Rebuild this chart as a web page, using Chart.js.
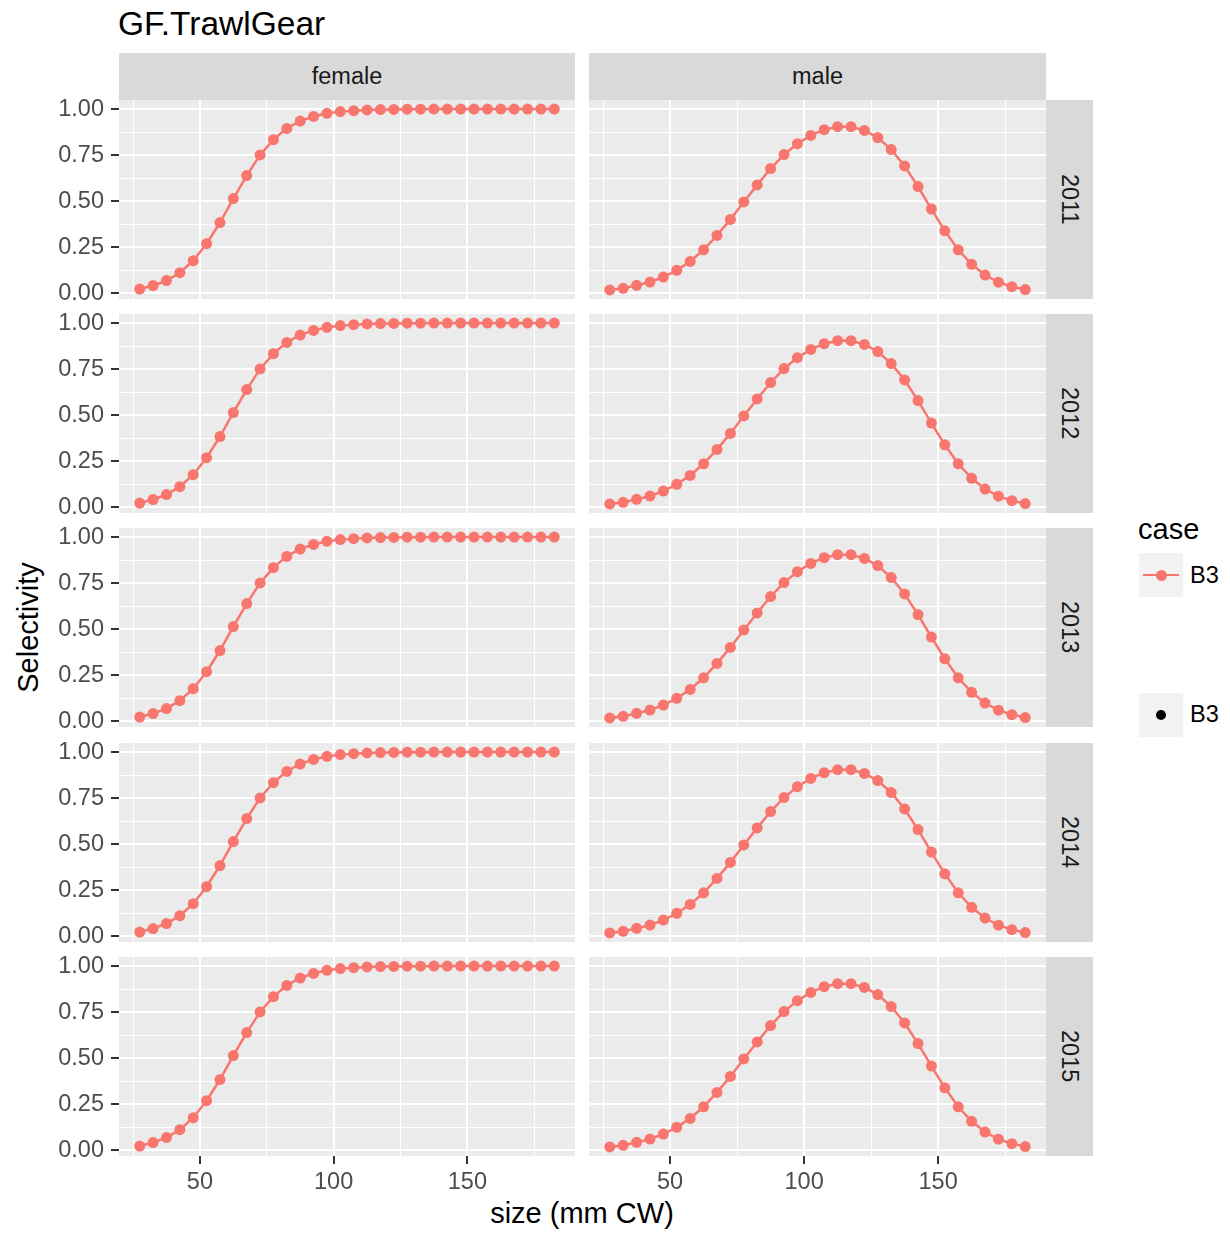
<!DOCTYPE html>
<html><head><meta charset="utf-8">
<script src="https://cdn.jsdelivr.net/npm/chart.js@4.4.1/dist/chart.umd.min.js"></script>
<style>
html,body{margin:0;padding:0;background:#fff;}
body{width:1230px;height:1234px;position:relative;overflow:hidden;font-family:'Liberation Sans',Arial,Helvetica,sans-serif;}
.abs{position:absolute;white-space:nowrap;}
canvas{position:absolute;}
.strip{position:absolute;background:#D9D9D9;color:#1A1A1A;font-size:23.5px;line-height:23.5px;display:flex;align-items:center;justify-content:center;}
.vert{writing-mode:vertical-rl;}
.key{position:absolute;width:44px;height:44px;background:#F2F2F2;}
</style></head><body>
<script>
// ---- data ----
const sizes = [27.5, 32.5, 37.5, 42.5, 47.5, 52.5, 57.5, 62.5, 67.5, 72.5, 77.5, 82.5, 87.5, 92.5, 97.5, 102.5,
               107.5, 112.5, 117.5, 122.5, 127.5, 132.5, 137.5, 142.5, 147.5, 152.5, 157.5, 162.5, 167.5, 172.5, 177.5, 182.5];
const femaleSel = [0.023, 0.042, 0.069, 0.112, 0.177, 0.269, 0.384, 0.514, 0.639, 0.751, 0.834, 0.895, 0.935, 0.960, 0.977, 0.986,
                   0.991, 0.995, 0.997, 0.998, 0.999, 0.999, 1.000, 1.000, 1.000, 1.000, 1.000, 1.000, 1.000, 1.000, 1.000, 1.000];
const maleSel = [0.018, 0.027, 0.043, 0.061, 0.088, 0.125, 0.173, 0.236, 0.314, 0.401, 0.496, 0.588, 0.677, 0.753, 0.812, 0.857,
                 0.888, 0.904, 0.904, 0.884, 0.845, 0.780, 0.691, 0.579, 0.457, 0.339, 0.236, 0.157, 0.099, 0.060, 0.036, 0.020];
const sexes = ['female', 'male'];
const years = ['2011', '2012', '2013', '2014', '2015'];
const xMajor = [50, 100, 150];
const xMinor = [25, 75, 125, 175];
const xTickLabels = ['50', '100', '150'];
const yMajor = [0, 0.25, 0.5, 0.75, 1];
const yMinor = [0.125, 0.375, 0.625, 0.875];
const yTickLabels = ['0.00', '0.25', '0.50', '0.75', '1.00'];
const caseLabel = 'B3';
const titleText = 'GF.TrawlGear';
const xTitle = 'size (mm CW)';
const yTitle = 'Selectivity';
const legendTitle = 'case';

// ---- styling / layout ----
const FONT = "'Liberation Sans', Arial, Helvetica, sans-serif";
const RED = '#F8766D';
const colLeft = [119, 589], colWidth = [456, 457];
const rowTop = [100, 314, 528, 743, 957], rowH = 199;
const stripTop = 53, stripH = 47, rStripLeft = 1046, rStripW = 47;

function expand(lo, hi) { const d = (hi - lo) * 0.05; return [lo - d, hi + d]; }
const allY = femaleSel.concat(maleSel);
const [yMin, yMax] = expand(Math.min(...allY), Math.max(...allY));
const [xMin, xMax] = expand(Math.min(...sizes), Math.max(...sizes));
const seriesBySex = {female: femaleSel, male: maleSel};

function addDiv(cls, style, text) {
  const d = document.createElement('div');
  d.className = cls; d.setAttribute('style', style);
  if (text !== undefined) d.textContent = text;
  document.body.appendChild(d); return d;
}

// titles
addDiv('abs', `left:118px;top:7px;font-size:33.5px;line-height:33.5px;color:#000;`, titleText);
addDiv('abs', `left:382px;width:400px;text-align:center;top:1199px;font-size:29px;line-height:29px;color:#000;`, xTitle);
addDiv('abs', `left:-172px;width:400px;text-align:center;top:613px;font-size:29px;line-height:29px;color:#000;transform:rotate(-90deg);`, yTitle);

// strips
sexes.forEach((s, c) => addDiv('strip', `left:${colLeft[c]}px;top:${stripTop}px;width:${colWidth[c]}px;height:${stripH}px;padding-top:1px;box-sizing:border-box;`, s));
years.forEach((y, r) => addDiv('strip vert', `left:${rStripLeft}px;top:${rowTop[r]}px;width:${rStripW}px;height:${rowH}px;`, y));

// legend
addDiv('abs', `left:1138px;top:515px;font-size:29px;line-height:29px;color:#000;`, legendTitle);
const k1 = addDiv('key', `left:1139px;top:553px;`);
const l1 = document.createElement('div'); l1.setAttribute('style', `position:absolute;left:4px;top:20.7px;width:36px;height:2.6px;background:${RED};`); k1.appendChild(l1);
const d1 = document.createElement('div'); d1.setAttribute('style', `position:absolute;left:16.5px;top:16.5px;width:11px;height:11px;border-radius:50%;background:${RED};`); k1.appendChild(d1);
addDiv('abs', `left:1190px;top:564px;font-size:23.5px;line-height:23.5px;color:#000;`, caseLabel);
const k2 = addDiv('key', `left:1139px;top:693px;`);
const d2 = document.createElement('div'); d2.setAttribute('style', `position:absolute;left:16.7px;top:16.7px;width:10.6px;height:10.6px;border-radius:50%;background:#000;`); k2.appendChild(d2);
addDiv('abs', `left:1190px;top:703px;font-size:23.5px;line-height:23.5px;color:#000;`, caseLabel);

// panel background plugin
const panelBg = {
  id: 'panelBg',
  beforeDraw(chart) {
    const {ctx, chartArea: a} = chart;
    ctx.save(); ctx.fillStyle = '#EBEBEB';
    ctx.fillRect(a.left, a.top, a.right - a.left, a.bottom - a.top);
    ctx.restore();
  }
};

const xGrid = xMinor.concat(xMajor).sort((a, b) => a - b);
const yGrid = yMinor.concat(yMajor).sort((a, b) => a - b);

function makePanel(r, c) {
  const isLeft = c === 0, isBottom = r === years.length - 1;
  const yAxisW = isLeft ? 75 : 0, padL = isLeft ? 44 : 8, padR = 8, padT = 14, padB = 8;
  const xAxisH = isBottom ? 46 : 0;
  const W = padL + yAxisW + colWidth[c] + padR;
  const H = padT + rowH + xAxisH + padB;
  const cv = document.createElement('canvas');
  cv.width = W; cv.height = H;
  cv.style.left = (colLeft[c] - yAxisW - padL) + 'px';
  cv.style.top = (rowTop[r] - padT) + 'px';
  cv.style.width = W + 'px'; cv.style.height = H + 'px';
  document.body.appendChild(cv);
  const vals = seriesBySex[sexes[c]];
  new Chart(cv, {
    type: 'line',
    data: { datasets: [{
      label: caseLabel,
      data: sizes.map((x, i) => ({x: x, y: vals[i]})),
      borderColor: RED, backgroundColor: RED,
      borderWidth: 2.5, pointRadius: 5.5, pointBorderWidth: 0, pointHoverRadius: 5.5,
      tension: 0, fill: false
    }]},
    options: {
      responsive: false, animation: false, devicePixelRatio: 1, events: [],
      layout: { autoPadding: false, padding: {left: padL, right: padR, top: padT, bottom: padB} },
      plugins: { legend: {display: false}, tooltip: {enabled: false}, title: {display: false} },
      scales: {
        x: {
          type: 'linear', position: 'bottom', min: xMin, max: xMax,
          afterBuildTicks: s => { s.ticks = xGrid.map(v => ({value: v})); },
          afterFit: s => { s.height = xAxisH; s.paddingLeft = 0; s.paddingRight = 0; s.paddingTop = 0; s.paddingBottom = 0; },
          border: {display: false},
          grid: {
            color: '#FFFFFF',
            lineWidth: ctx => (xMajor.includes(ctx.tick.value) ? 2 : 1),
            drawTicks: isBottom, tickLength: 8, tickWidth: 2,
            tickColor: ctx => (xMajor.includes(ctx.tick.value) ? '#333333' : 'rgba(0,0,0,0)')
          },
          ticks: {
            display: isBottom, autoSkip: false, maxRotation: 0, minRotation: 0, padding: 4,
            color: '#4D4D4D', font: {family: FONT, size: 23.5},
            callback: v => { const i = xMajor.indexOf(v); return i >= 0 ? xTickLabels[i] : ''; }
          }
        },
        y: {
          type: 'linear', position: 'left', min: yMin, max: yMax,
          afterBuildTicks: s => { s.ticks = yGrid.map(v => ({value: v})); },
          afterFit: s => { s.width = yAxisW; s.paddingTop = 0; s.paddingBottom = 0; s.paddingLeft = 0; s.paddingRight = 0; },
          border: {display: false},
          grid: {
            color: '#FFFFFF',
            lineWidth: ctx => (yMajor.includes(ctx.tick.value) ? 2 : 1),
            drawTicks: isLeft, tickLength: 8, tickWidth: 2,
            tickColor: ctx => (yMajor.includes(ctx.tick.value) ? '#333333' : 'rgba(0,0,0,0)')
          },
          ticks: {
            display: isLeft, autoSkip: false, padding: 7,
            color: '#4D4D4D', font: {family: FONT, size: 23.5},
            callback: v => { const i = yMajor.indexOf(v); return i >= 0 ? yTickLabels[i] : ''; }
          }
        }
      }
    },
    plugins: [panelBg]
  });
}

for (let r = 0; r < years.length; r++) for (let c = 0; c < sexes.length; c++) makePanel(r, c);
</script>
</body></html>
